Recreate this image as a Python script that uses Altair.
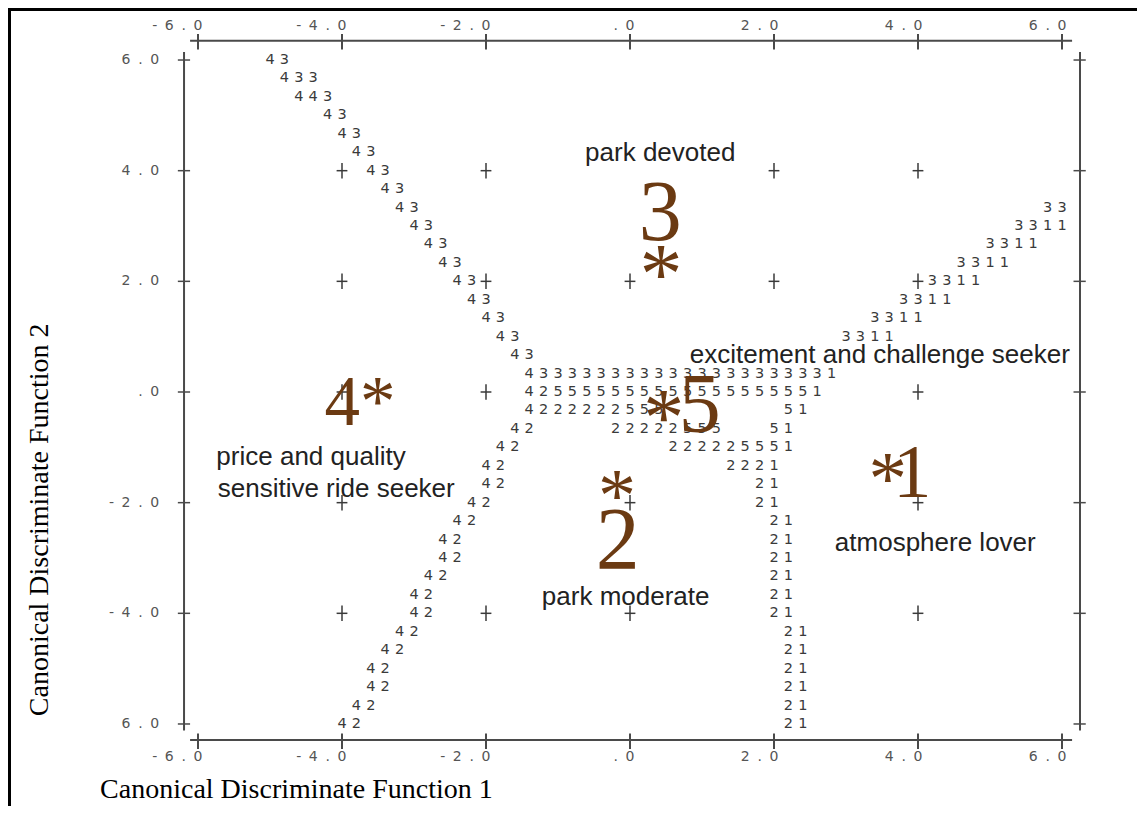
import altair as alt
import pandas as pd

# ---------------- data ----------------
X_TICKS = [-6.0, -4.0, -2.0, 0.0, 2.0, 4.0, 6.0]
X_TICK_LABELS = ["-6.0", "-4.0", "-2.0", ".0", "2.0", "4.0", "6.0"]
Y_TICKS = [6.0, 4.0, 2.0, 0.0, -2.0, -4.0, -6.0]
Y_TICK_LABELS = ["6.0", "4.0", "2.0", ".0", "-2.0", "-4.0", "6.0"]

# territorial map: row index (0 = 6.0, step 1/3), first column (0 = -6.0, step 0.2), printed characters
MAP_ROW = [0, 1, 2, 3, 4, 5, 6, 7, 8, 8, 9, 9, 10, 10, 11, 11, 12, 12, 13, 13,
           14, 14, 15, 15, 16, 17, 18, 19, 19, 20, 20, 20, 21, 21, 22, 22,
           23, 23, 24, 24, 25, 25, 26, 26, 27, 27, 28, 28, 29, 29, 30, 30,
           31, 31, 32, 32, 33, 33, 34, 34, 35, 35, 36, 36]
MAP_COL = [5, 6, 7, 9, 10, 11, 12, 13, 14, 59, 15, 57, 16, 55, 17, 53, 18, 51, 19, 49,
           20, 47, 21, 45, 22, 23, 23, 23, 41, 22, 29, 40, 21, 33, 20, 37,
           20, 39, 19, 39, 18, 40, 17, 40, 17, 40, 16, 40, 15, 40, 15, 40,
           14, 41, 13, 41, 12, 41, 12, 41, 11, 41, 10, 41]
MAP_TEXT = ["43", "433", "443", "43", "43", "43", "43", "43", "43", "33", "43", "3311",
            "43", "3311", "43", "3311", "43", "3311", "43", "3311", "43", "3311",
            "43", "3311", "43",
            "4333333333333333333331",
            "425555555555555555551",
            "4222222555", "51",
            "42", "22222555", "51",
            "42", "222225551",
            "42", "2221",
            "42", "21", "42", "21", "42", "21", "42", "21", "42", "21", "42", "21",
            "42", "21", "42", "21", "42", "21", "42", "21", "42", "21", "42", "21",
            "42", "21", "42", "21"]

# grid crosses still visible inside the map
CROSS_X = [-4, -2, 2, 4, -4, -2, 0, 2, 4, -4, -2, 4, -4, 0, 4, -4, -2, 0, 4]
CROSS_Y = [4, 4, 4, 4, 2, 2, 2, 2, 2, 0, 0, 0, -2, -2, -2, -4, -4, -4, -4]

# group annotations (data coordinates)
LABEL_TEXT = ["park devoted", "excitement and challenge seeker", "price and quality",
              "sensitive ride seeker", "park moderate", "atmosphere lover"]
LABEL_X = [0.42, 3.47, -4.43, -4.08, -0.06, 4.24]
LABEL_Y = [4.18, 0.52, -1.32, -1.90, -3.85, -2.87]

CENTROID_TEXT = ["3", "*", "4*", "*", "5", "*", "2", "*", "1"]
CENTROID_X = [0.42, 0.43, -3.75, 0.47, 0.97, -0.18, -0.17, 3.58, 3.92]
CENTROID_Y = [2.75, 1.61, -0.60, -0.96, -0.72, -2.33, -3.18, -2.02, -1.90]

X_TITLE = "Canonical Discriminate Function 1"
Y_TITLE = "Canonical Discriminate Function 2"

# ---------------- layout / styling ----------------
W, H = 1129, 798
PX_X, PX_Y = 72.0, 55.33            # pixels per data unit
X0_PX, Y0_PX = 622.0, 384.0         # pixel of data origin inside the chart
XDOM = [-X0_PX / PX_X, (W - X0_PX) / PX_X]
YDOM = [(Y0_PX - H) / PX_Y, Y0_PX / PX_Y]
xs = alt.Scale(domain=XDOM, nice=False, zero=False)
ys = alt.Scale(domain=YDOM, nice=False, zero=False)

COL_STEP = 0.2
ROW_STEP = 1.0 / 3.0
CENTROID_SIZE = [86, 86, 71, 82, 84, 76, 88, 77, 77]
BROWN = "#6b3a12"


def col_x(c):
    return -6.0 + COL_STEP * c


def row_y(r):
    return 6.0 - ROW_STEP * r


# map characters
recs = []
for r, c0, s in zip(MAP_ROW, MAP_COL, MAP_TEXT):
    for i, ch in enumerate(s):
        if ch != " ":
            recs.append({"x": col_x(c0 + i), "y": row_y(r), "ch": ch})
grid_df = pd.DataFrame(recs)

# tick label characters on the same character grid
TOP_LABEL_Y, BOTTOM_LABEL_Y = 6.615, -6.60
lab = []
for t, s in zip(X_TICKS, X_TICK_LABELS):
    c_end = round((t + 6.0) / COL_STEP)
    n = len(s)
    for i, ch in enumerate(s):
        x = col_x(c_end - (n - 1 - i))
        lab.append({"x": x, "y": TOP_LABEL_Y, "ch": ch})
        lab.append({"x": x, "y": BOTTOM_LABEL_Y, "ch": ch})
for t, s in zip(Y_TICKS, Y_TICK_LABELS):
    n = len(s)
    for i, ch in enumerate(s):
        lab.append({"x": col_x(-3 - (n - 1 - i)), "y": t, "ch": ch})
lab_df = pd.DataFrame(lab)

# line segments: frame, ticks, crosses
segs = []


def seg(x, x2, y, y2, w, color):
    segs.append({"x": x, "x2": x2, "y": y, "y2": y2, "w": w, "c": color})


AX = "#4a4a4a"
seg(-6.11, 6.14, 6.35, 6.35, 2, AX)
seg(-6.11, 6.14, -6.29, -6.29, 2, AX)
seg(-6.194, -6.194, 6.145, -6.12, 2, AX)
seg(6.25, 6.25, 6.145, -6.12, 2, AX)
for t in X_TICKS:
    seg(t, t, 6.47, 6.19, 2, AX)
    seg(t, t, -6.17, -6.45, 2, AX)
for t in Y_TICKS:
    seg(-6.28, -6.11, t, t, 1.5, AX)
    seg(6.16, 6.33, t, t, 1.5, AX)
for cx, cy in zip(CROSS_X, CROSS_Y):
    seg(cx - 0.075, cx + 0.075, cy, cy, 1.5, "#3a3a3a")
    seg(cx, cx, cy - 0.14, cy + 0.14, 1.5, "#3a3a3a")
# page frame
seg(XDOM[0], XDOM[1], YDOM[1] - 1.5 / PX_Y, YDOM[1] - 1.5 / PX_Y, 3, "#000000")
seg(XDOM[0] + 1.5 / PX_X, XDOM[0] + 1.5 / PX_X, YDOM[0], YDOM[1], 3, "#000000")
seg_df = pd.DataFrame(segs)

label_df = pd.DataFrame({"x": LABEL_X, "y": LABEL_Y, "t": LABEL_TEXT})
cent_df = pd.DataFrame({"x": CENTROID_X, "y": CENTROID_Y, "t": CENTROID_TEXT,
                        "fs": CENTROID_SIZE})
xt_df = pd.DataFrame({"x": [-7.36], "y": [-7.34], "t": [X_TITLE]})
yt_df = pd.DataFrame({"x": [-8.19], "y": [-2.31], "t": [Y_TITLE]})

X = alt.X("x:Q", scale=xs, axis=None)
Y = alt.Y("y:Q", scale=ys, axis=None)

rules = alt.Chart(seg_df).mark_rule().encode(
    x=X, x2="x2:Q", y=Y, y2="y2:Q",
    size=alt.Size("w:Q", scale=None), color=alt.Color("c:N", scale=None))

grid_txt = alt.Chart(grid_df).mark_text(
    font="DejaVu Sans", fontSize=14.5, color="#3a3a3a", baseline="middle", align="center"
).encode(x=X, y=Y, text="ch:N")

tick_txt = alt.Chart(lab_df).mark_text(
    font="DejaVu Sans", fontSize=14, color="#555555", baseline="middle", align="center"
).encode(x=X, y=Y, text="ch:N")

label_txt = alt.Chart(label_df).mark_text(
    font="Liberation Sans", fontSize=26, color="#222222", baseline="alphabetic", align="center"
).encode(x=X, y=Y, text="t:N")

cent_txt = alt.Chart(cent_df).mark_text(
    font="Liberation Serif", color=BROWN, baseline="alphabetic", align="center"
).encode(x=X, y=Y, text="t:N", size=alt.Size("fs:Q", scale=None))

xt_txt = alt.Chart(xt_df).mark_text(
    font="Liberation Serif", fontSize=28, color="#000000", baseline="alphabetic", align="left"
).encode(x=X, y=Y, text="t:N")

yt_txt = alt.Chart(yt_df).mark_text(
    font="Liberation Serif", fontSize=28, color="#000000", baseline="middle", align="center",
    angle=270
).encode(x=X, y=Y, text="t:N")

chart = alt.layer(rules, grid_txt, tick_txt, label_txt, cent_txt, xt_txt, yt_txt).properties(
    width=W, height=H, padding=0, autosize=alt.AutoSizeParams(type="none")
).configure_view(stroke=None)

chart.save("out.html", embed_options={"renderer": "svg", "actions": False})
